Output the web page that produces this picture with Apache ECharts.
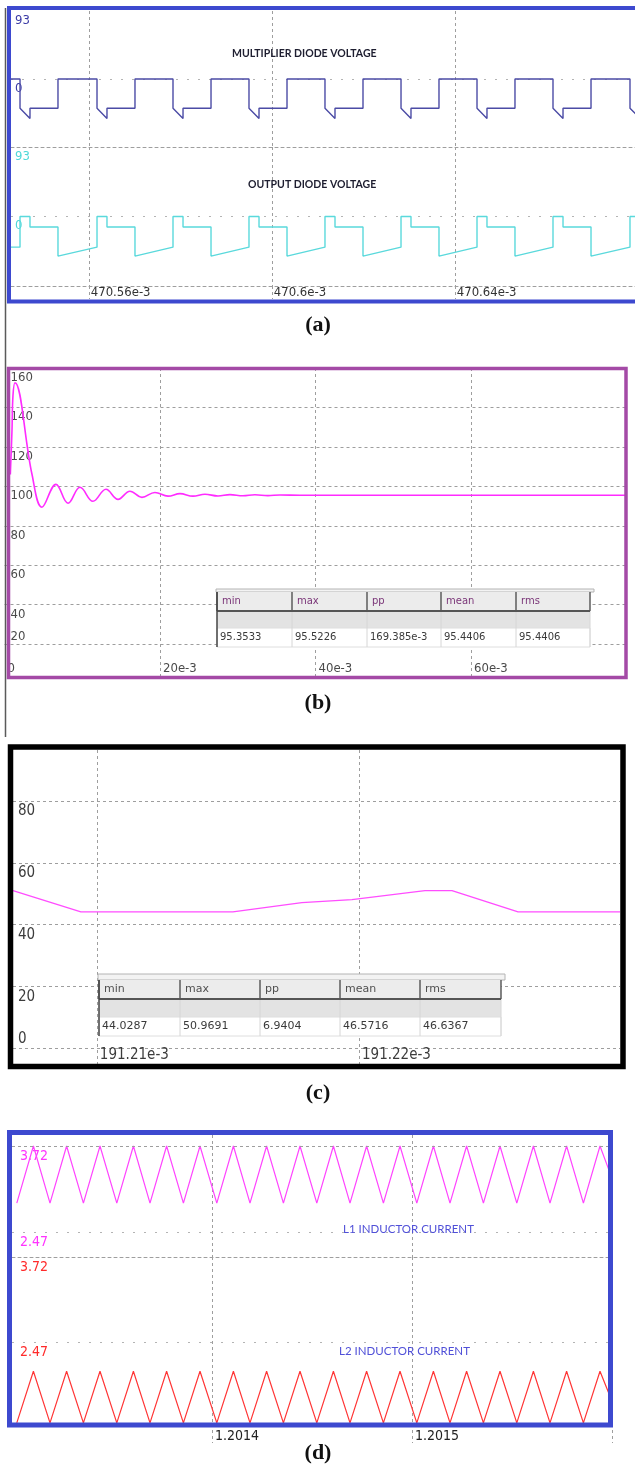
<!DOCTYPE html>
<html>
<head>
<meta charset="utf-8">
<script src="https://cdn.jsdelivr.net/npm/echarts@6.0.0/dist/echarts.min.js"></script>
<style>
html, body { margin: 0; padding: 0; background: #fff; }
#fig { width: 635px; height: 1472px; }
</style>
</head>
<body>
<div id="fig"></div>
<script>
// (a) diode voltages, time in e-3 s
var multDiode = [
	[470.5430, 0],
	[470.54497, 0], [470.54497, -40], [470.54715, -54], [470.54715, -40], [470.55327, -40], [470.55327, 0],
	[470.56180, 0], [470.56180, -40], [470.56398, -54], [470.56398, -40], [470.57010, -40], [470.57010, 0],
	[470.57841, 0], [470.57841, -40], [470.58060, -54], [470.58060, -40], [470.58672, -40], [470.58672, 0],
	[470.59502, 0], [470.59502, -40], [470.59721, -54], [470.59721, -40], [470.60333, -40], [470.60333, 0],
	[470.61163, 0], [470.61163, -40], [470.61382, -54], [470.61382, -40], [470.61994, -40], [470.61994, 0],
	[470.62825, 0], [470.62825, -40], [470.63043, -54], [470.63043, -40], [470.63655, -40], [470.63655, 0],
	[470.64486, 0], [470.64486, -40], [470.64704, -54], [470.64704, -40], [470.65316, -40], [470.65316, 0],
	[470.66147, 0], [470.66147, -40], [470.66366, -54], [470.66366, -40], [470.66978, -40], [470.66978, 0],
	[470.67830, 0], [470.67830, -40], [470.68049, -54]
];
var outDiode = [
	[470.5430, -41],
	[470.54497, -41], [470.54497, 0], [470.54715, 0], [470.54715, -14], [470.55327, -14], [470.55327, -53],
	[470.56180, -41], [470.56180, 0], [470.56398, 0], [470.56398, -14], [470.57010, -14], [470.57010, -53],
	[470.57841, -41], [470.57841, 0], [470.58060, 0], [470.58060, -14], [470.58672, -14], [470.58672, -53],
	[470.59502, -41], [470.59502, 0], [470.59721, 0], [470.59721, -14], [470.60333, -14], [470.60333, -53],
	[470.61163, -41], [470.61163, 0], [470.61382, 0], [470.61382, -14], [470.61994, -14], [470.61994, -53],
	[470.62825, -41], [470.62825, 0], [470.63043, 0], [470.63043, -14], [470.63655, -14], [470.63655, -53],
	[470.64486, -41], [470.64486, 0], [470.64704, 0], [470.64704, -14], [470.65316, -14], [470.65316, -53],
	[470.66147, -41], [470.66147, 0], [470.66366, 0], [470.66366, -14], [470.66978, -14], [470.66978, -53],
	[470.67830, -41], [470.67830, 0], [470.68049, 0]
];
var aTicks = [470.56, 470.6, 470.64];
var aLevels = [93, 0];

// (b) output voltage start-up, time in e-3 s
var bTime = [0.75, 0.96, 1.09, 1.35, 3.54, 4.82, 6.62, 8.17, 9.71, 11.38, 13.05, 14.6, 16.14, 17.68, 19.35, 21.03, 22.57, 24.24, 25.78, 27.46, 29.0, 30.67, 32.21, 33.88, 35.43, 38.0, 80];
var bVolt = [106, 128, 146, 152.5, 106, 89.4, 101, 91.4, 99.5, 92.4, 98.5, 93.4, 97.5, 94.4, 96.9, 95.0, 96.3, 95.0, 95.95, 95.1, 95.8, 95.2, 95.7, 95.3, 95.6, 95.44, 95.44];
var bTicksX = [0, 20, 40, 60];
var bTicksY = [40, 60, 80, 100, 120, 140, 160];
var bLowTick = [20];
var bStats = ['95.3533', '95.5226', '169.385e-3', '95.4406', '95.4406'];

// (c) zoomed output voltage, time in e-3 s
var cTime = [191.2068, 191.20939, 191.21519, 191.21782, 191.21973, 191.22252, 191.22355, 191.22607, 191.22996];
var cVolt = [51.0, 44.1, 44.1, 47.1, 48.1, 51.0, 51.0, 44.1, 44.1];
var cTicksX = [191.21, 191.22];
var cTicksY = [20, 40, 60, 80];
var cLowTick = [0];
var cStats = ['44.0287', '50.9691', '6.9404', '46.5716', '46.6367'];

var statHeads = ['min', 'max', 'pp', 'mean', 'rms'];

// (d) inductor currents, time in s
var dTime = [1.2013024, 1.2013107, 1.2013190, 1.2013273, 1.2013357, 1.2013440, 1.2013524, 1.2013607, 1.2013690, 1.2013773,
	1.2013857, 1.2013940, 1.2014024, 1.2014107, 1.2014190, 1.2014273, 1.2014357, 1.2014440, 1.2014524, 1.2014607,
	1.2014690, 1.2014773, 1.2014857, 1.2014940, 1.2015024, 1.2015107, 1.2015190, 1.2015273, 1.2015357, 1.2015440,
	1.2015524, 1.2015607, 1.2015690, 1.2015773, 1.2015857, 1.2015940, 1.2016000];
var l1Amp = [2.89, 3.72, 2.89, 3.72, 2.89, 3.72, 2.89, 3.72, 2.89, 3.72,
	2.89, 3.72, 2.89, 3.72, 2.89, 3.72, 2.89, 3.72, 2.89, 3.72,
	2.89, 3.72, 2.89, 3.72, 2.89, 3.72, 2.89, 3.72, 2.89, 3.72,
	2.89, 3.72, 2.89, 3.72, 2.89, 3.72, 3.25];
var l2Amp = [1.28, 2.04, 1.28, 2.04, 1.28, 2.04, 1.28, 2.04, 1.28, 2.04,
	1.28, 2.04, 1.28, 2.04, 1.28, 2.04, 1.28, 2.04, 1.28, 2.04,
	1.28, 2.04, 1.28, 2.04, 1.28, 2.04, 1.28, 2.04, 1.28, 2.04,
	1.28, 2.04, 1.28, 2.04, 1.28, 2.04, 1.60];
var dTicksX = [1.2014, 1.2015];
var dLevels = [3.72, 2.47];

function zip(xs, ys) {
	var out = [];
	for (var i = 0; i < xs.length; i++) out.push([xs[i], ys[i]]);
	return out;
}

var dashLine = { color: '#9e9e9e', width: 1, type: [3, 3] };
var dotLine = { color: '#b4b4b4', width: 1, type: [2, 9] };
var tickFont = "'DejaVu Sans Condensed', 'Liberation Sans', sans-serif";

function statTable(cols, rows, ruleH, heads, vals, headColor, fs) {
	var els = [];
	var x0 = cols[0], x1 = cols[cols.length - 1];
	els.push({ type: 'rect', z: 60, shape: { x: x0 - 1, y: rows[0] - ruleH, width: x1 - x0 + 5, height: ruleH }, style: { fill: '#f3f3f3', stroke: '#b4b4b4', lineWidth: 1 } });
	els.push({ type: 'rect', z: 60, shape: { x: x0, y: rows[0], width: x1 - x0, height: rows[1] - rows[0] }, style: { fill: '#ececec' } });
	els.push({ type: 'rect', z: 60, shape: { x: x0, y: rows[1], width: x1 - x0, height: rows[2] - rows[1] }, style: { fill: '#e3e3e3' } });
	els.push({ type: 'rect', z: 60, shape: { x: x0, y: rows[2], width: x1 - x0, height: rows[3] - rows[2] }, style: { fill: '#ffffff', stroke: '#dedede', lineWidth: 1 } });
	for (var i = 0; i < cols.length; i++) {
		els.push({ type: 'line', z: 61, shape: { x1: cols[i], y1: rows[0], x2: cols[i], y2: rows[1] }, style: { stroke: '#5c5c5c', lineWidth: 1.5 } });
		if (i > 0) {
			els.push({ type: 'line', z: 61, shape: { x1: cols[i], y1: rows[1], x2: cols[i], y2: rows[3] }, style: { stroke: '#d6d6d6', lineWidth: 1 } });
		}
	}
	els.push({ type: 'line', z: 61, shape: { x1: x0, y1: rows[1], x2: x1, y2: rows[1] }, style: { stroke: '#555', lineWidth: 2 } });
	els.push({ type: 'line', z: 61, shape: { x1: x0, y1: rows[0], x2: x0, y2: rows[3] }, style: { stroke: '#444', lineWidth: 1.5 } });
	for (var j = 0; j < heads.length; j++) {
		els.push({ type: 'text', z: 62, x: cols[j] + 5, y: (rows[0] + rows[1]) / 2, style: { text: heads[j], fill: headColor, fontSize: fs, fontFamily: 'DejaVu Sans', verticalAlign: 'middle', align: 'left' } });
		els.push({ type: 'text', z: 62, x: cols[j] + 3, y: (rows[2] + rows[3]) / 2, style: { text: vals[j], fill: '#3a3a3a', fontSize: fs, fontFamily: 'DejaVu Sans', verticalAlign: 'middle', align: 'left' } });
	}
	return els;
}

function panelText(txt, x, y, font, color) {
	return { type: 'text', z: 70, x: x, y: y, style: { text: txt, font: font, fill: color, verticalAlign: 'middle', align: 'left' } };
}

function panelLetter(txt, y) {
	return { type: 'text', z: 70, x: 318, y: y, style: { text: txt, font: 'bold 22px "Liberation Serif", "DejaVu Serif", serif', fill: '#111', verticalAlign: 'middle', align: 'center' } };
}

function border(x, y, w, h, color, lw) {
	return { type: 'rect', z: 100, shape: { x: x, y: y, width: w, height: h }, style: { fill: 'none', stroke: color, lineWidth: lw } };
}

var graphics = [
	{ type: 'line', z: 100, shape: { x1: 5.5, y1: 8, x2: 5.5, y2: 737 }, style: { stroke: '#5a5a5a', lineWidth: 1.5 } },
	border(9, 8, 640, 293.5, '#3d49cf', 4),
	border(8.5, 368.5, 617.5, 309, '#a44aa6', 3.5),
	border(10.5, 747, 612.5, 319.5, '#000000', 5.5),
	border(9.5, 1132.5, 601, 292.5, '#3d49cf', 5),
	panelText('MULTIPLIER DIODE VOLTAGE', 232, 54, 'bold 10.5px Lato, sans-serif', '#1e1e30'),
	panelText('OUTPUT DIODE VOLTAGE', 248, 185, 'bold 10.5px Lato, sans-serif', '#1e1e30'),
	panelText('L1 INDUCTOR CURRENT', 343, 1229, '11.5px Lato, sans-serif', '#5050d8'),
	panelText('L2 INDUCTOR CURRENT', 339, 1351, '11.5px Lato, sans-serif', '#5050d8'),
	panelLetter('(a)', 325),
	panelLetter('(b)', 703),
	panelLetter('(c)', 1093),
	panelLetter('(d)', 1453)
].concat(
	statTable([217, 292, 367, 441, 516, 590], [592, 611, 628, 647], 3, statHeads, bStats, '#7a3578', 10),
	statTable([99, 180, 260, 340, 420, 501], [980, 999, 1017, 1036], 6, statHeads, cStats, '#505050', 11)
);

function yAxisDef(gi, min, max, lines, labels, color, fs, margin, lineStyle) {
	return {
		type: 'value', gridIndex: gi, position: 'left', min: min, max: max,
		axisLine: { show: false },
		axisTick: { show: false, customValues: lines },
		axisLabel: {
			inside: true, customValues: labels, margin: margin, align: 'left', verticalAlign: 'top',
			padding: [3, 0, 0, 0], color: color, fontSize: fs, fontFamily: tickFont
		},
		splitLine: { show: true, lineStyle: lineStyle }
	};
}

// extra label-only axis for a label sitting above its grid line
function yLabelAbove(gi, min, max, labels, color, fs, margin) {
	return {
		type: 'value', gridIndex: gi, position: 'left', offset: 0, min: min, max: max,
		axisLine: { show: false },
		axisTick: { show: false, customValues: labels },
		axisLabel: {
			inside: true, customValues: labels, margin: margin, align: 'left', verticalAlign: 'bottom',
			padding: [0, 0, 1, 0], color: color, fontSize: fs, fontFamily: tickFont
		},
		splitLine: { show: false }
	};
}

var chart = echarts.init(document.getElementById('fig'));

var option = {
	animation: false,
	backgroundColor: '#ffffff',
	grid: [
		{ left: 11, top: 11, width: 627, height: 136, outerBoundsMode: 'none', containLabel: false },
		{ left: 11, top: 147, width: 627, height: 139, outerBoundsMode: 'none', containLabel: false },
		{ left: 4.5, top: 368, width: 622, height: 309, outerBoundsMode: 'none', containLabel: false },
		{ left: 13, top: 750, width: 607, height: 314, outerBoundsMode: 'none', containLabel: false },
		{ left: 12, top: 1135, width: 600, height: 122, outerBoundsMode: 'none', containLabel: false },
		{ left: 12, top: 1257, width: 600, height: 167, outerBoundsMode: 'none', containLabel: false }
	],
	xAxis: [
		{
			type: 'value', gridIndex: 0, min: 470.5430, max: 470.68005,
			axisLine: { show: true, onZero: false, lineStyle: dashLine },
			axisTick: { show: false, customValues: aTicks },
			axisLabel: { show: false },
			splitLine: { show: true, lineStyle: dashLine }
		},
		{
			type: 'value', gridIndex: 1, min: 470.5430, max: 470.68005,
			axisLine: { show: true, onZero: false, lineStyle: dashLine },
			axisTick: { show: true, length: 13, customValues: aTicks, lineStyle: dashLine },
			axisLabel: {
				customValues: aTicks, margin: 0, align: 'left', padding: [0, 0, 0, 2],
				color: '#333', fontSize: 13, fontFamily: tickFont,
				formatter: function (v) { return v + 'e-3'; }
			},
			splitLine: { show: true, lineStyle: dashLine }
		},
		{
			type: 'value', gridIndex: 2, min: 0, max: 80,
			axisLine: { show: false, onZero: false },
			axisTick: { show: false, customValues: [20, 40, 60] },
			axisLabel: {
				inside: true, customValues: bTicksX, margin: 2, align: 'left', verticalAlign: 'bottom',
				padding: [0, 0, 0, 3], color: '#4a4a4a', fontSize: 13, fontFamily: tickFont,
				formatter: function (v) { return v === 0 ? '0' : v + 'e-3'; }
			},
			splitLine: { show: true, lineStyle: dashLine }
		},
		{
			type: 'value', gridIndex: 3, min: 191.2068, max: 191.22996,
			axisLine: { show: false, onZero: false },
			axisTick: { show: false, customValues: cTicksX },
			axisLabel: {
				inside: true, customValues: cTicksX, margin: 1, align: 'left', verticalAlign: 'bottom',
				padding: [0, 0, 0, 3], color: '#3c3c3c', fontSize: 15, fontFamily: tickFont,
				formatter: function (v) { return v + 'e-3'; }
			},
			splitLine: { show: true, lineStyle: dashLine }
		},
		{
			type: 'value', gridIndex: 4, min: 1.2013, max: 1.2016,
			axisLine: { show: true, onZero: false, lineStyle: dashLine },
			axisTick: { show: false, customValues: dTicksX },
			axisLabel: { show: false },
			splitLine: { show: true, lineStyle: dashLine }
		},
		{
			type: 'value', gridIndex: 5, min: 1.2013, max: 1.2016,
			axisLine: { show: false, onZero: false },
			axisTick: { show: true, length: 19, customValues: [1.2014, 1.2015, 1.2016], lineStyle: dashLine },
			axisLabel: {
				customValues: dTicksX, margin: 5, align: 'left', padding: [0, 0, 0, 3],
				color: '#222', fontSize: 14, fontFamily: tickFont,
				formatter: function (v) { return String(v); }
			},
			splitLine: { show: true, lineStyle: dashLine }
		}
	],
	yAxis: [
		yAxisDef(0, -93, 93, [0], aLevels, '#3b3ba6', 13, 4, dotLine),
		yAxisDef(1, -93, 93, [0], aLevels, '#4fd8d8', 13, 4, dotLine),
		yAxisDef(2, 3.3, 160, [20, 40, 60, 80, 100, 120, 140], bTicksY, '#4a4a4a', 13, 6, dashLine),
		yAxisDef(3, -5.18, 96.56, [0, 20, 40, 60, 80], cTicksY, '#3c3c3c', 15, 5, dashLine),
		yAxisDef(4, 2.107, 3.88, [2.47], dLevels, '#ff33ff', 14, 8, dotLine),
		yAxisDef(5, 1.264, 3.72, [2.47], dLevels, '#ff2a2a', 14, 8, dotLine),
		yLabelAbove(2, 3.3, 160, bLowTick, '#4a4a4a', 13, 6),
		yLabelAbove(3, -5.18, 96.56, cLowTick, '#3c3c3c', 15, 5)
	],
	series: [
		{ name: 'MULTIPLIER DIODE VOLTAGE', type: 'line', xAxisIndex: 0, yAxisIndex: 0, data: multDiode, showSymbol: false, symbol: 'none', lineStyle: { color: '#4b4ba5', width: 1.4 } },
		{ name: 'OUTPUT DIODE VOLTAGE', type: 'line', xAxisIndex: 1, yAxisIndex: 1, data: outDiode, showSymbol: false, symbol: 'none', lineStyle: { color: '#5ad9dc', width: 1.4 } },
		{ name: 'Vo', type: 'line', xAxisIndex: 2, yAxisIndex: 2, data: zip(bTime, bVolt), smooth: 0.4, showSymbol: false, symbol: 'none', lineStyle: { color: '#ff2bff', width: 1.6 } },
		{ name: 'Vo zoom', type: 'line', xAxisIndex: 3, yAxisIndex: 3, data: zip(cTime, cVolt), showSymbol: false, symbol: 'none', lineStyle: { color: '#ff4dff', width: 1.3 } },
		{
			name: 'L1 INDUCTOR CURRENT', type: 'line', xAxisIndex: 4, yAxisIndex: 4, data: zip(dTime, l1Amp), showSymbol: false, symbol: 'none',
			lineStyle: { color: '#ff44ff', width: 1.2 },
			markLine: { silent: true, symbol: 'none', label: { show: false }, lineStyle: dashLine, data: [{ yAxis: dLevels[0] }] }
		},
		{ name: 'L2 INDUCTOR CURRENT', type: 'line', xAxisIndex: 5, yAxisIndex: 5, data: zip(dTime, l2Amp), showSymbol: false, symbol: 'none', lineStyle: { color: '#ff3535', width: 1.2 } }
	],
	graphic: { elements: graphics }
};

chart.setOption(option);
</script>
</body>
</html>
